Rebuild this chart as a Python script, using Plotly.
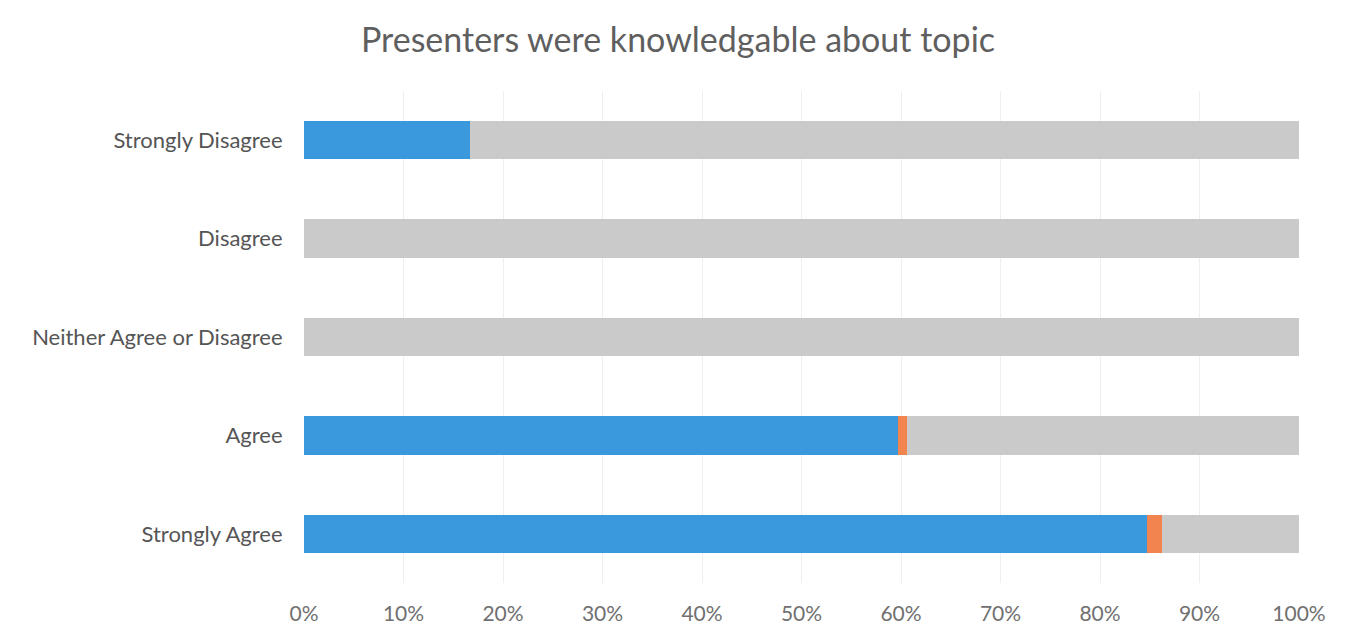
import plotly.graph_objects as go

categories = ["Strongly Disagree", "Disagree", "Neither Agree or Disagree", "Agree", "Strongly Agree"]
blue_vals = [16.7, 0, 0, 59.7, 84.7]
orange_vals = [0, 0, 0, 0.9, 1.5]
gray_vals = [83.3, 100, 100, 39.4, 13.8]
tick_vals = [0, 10, 20, 30, 40, 50, 60, 70, 80, 90, 100]
tick_text = ["0%", "10%", "20%", "30%", "40%", "50%", "60%", "70%", "80%", "90%", "100%"]

fig = go.Figure()
for vals, col, name in [(blue_vals, "#3a98dc", "Series 1"),
                        (orange_vals, "#f2844f", "Series 2"),
                        (gray_vals, "#cacaca", "Series 3")]:
    fig.add_trace(go.Bar(y=categories, x=vals, orientation="h", marker=dict(color=col, line=dict(width=0)),
                         name=name, width=0.39))

fig.update_layout(
    barmode="stack",
    width=1340, height=623,
    margin=dict(l=296, r=49, t=83, b=48),
    paper_bgcolor="white", plot_bgcolor="white",
    showlegend=False,
    font=dict(family="Lato, Open Sans, sans-serif", color="#666666"),
    title=dict(text="Presenters were knowledgable about topic", x=0.5, xanchor="center",
               y=0.949, yanchor="middle", font=dict(size=34, color="#5f5f5f")),
    xaxis=dict(range=[0, 100], tickvals=tick_vals, ticktext=tick_text, showgrid=True,
               gridcolor="#efefef", gridwidth=1, zeroline=False, showline=False, automargin=False,
               tickfont=dict(size=21, color="#707070"), ticks="outside", ticklen=12, tickcolor="rgba(0,0,0,0)"),
    yaxis=dict(categoryorder="array", categoryarray=categories[::-1], autorange=True,
               showgrid=False, zeroline=False, showline=False, automargin=False,
               tickfont=dict(size=22, color="#555555"), ticks="outside", ticklen=16, tickcolor="rgba(0,0,0,0)"),
)

fig.write_html("out.html")
